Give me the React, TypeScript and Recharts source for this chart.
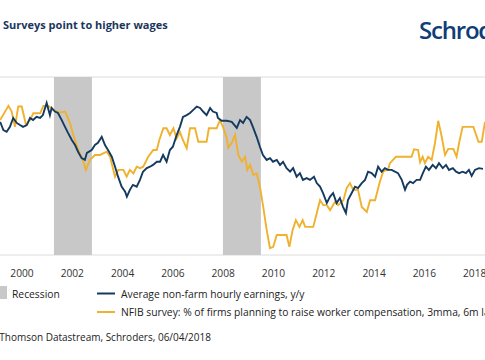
import React from "react";
import { LineChart, Line, XAxis, YAxis, CartesianGrid, ReferenceArea } from "recharts";

// Average non-farm hourly earnings, y/y (%)
const earningsDates = [
  1999.13, 1999.26, 1999.39, 1999.52, 1999.65, 1999.79, 1999.92, 2000.04, 2000.19, 2000.32,
  2000.44, 2000.58, 2000.72, 2000.83, 2000.98, 2001.11, 2001.18, 2001.31, 2001.43, 2001.58,
  2001.71, 2001.83, 2001.98, 2002.11, 2002.23, 2002.37, 2002.5, 2002.58, 2002.77, 2002.9,
  2003.02, 2003.17, 2003.3, 2003.42, 2003.57, 2003.7, 2003.82, 2003.96, 2004.1, 2004.17,
  2004.29, 2004.41, 2004.56, 2004.69, 2004.81, 2004.96, 2005.09, 2005.21, 2005.36, 2005.49,
  2005.61, 2005.75, 2005.88, 2006.0, 2006.15, 2006.28, 2006.4, 2006.55, 2006.68, 2006.8,
  2006.95, 2007.08, 2007.2, 2007.34, 2007.48, 2007.59, 2007.74, 2007.79, 2007.94, 2008.14,
  2008.34, 2008.54, 2008.67, 2008.79, 2008.93, 2009.07, 2009.18, 2009.33, 2009.46, 2009.58,
  2009.73, 2009.86, 2009.98, 2010.13, 2010.26, 2010.38, 2010.52, 2010.66, 2010.78, 2010.92,
  2011.05, 2011.17, 2011.32, 2011.45, 2011.61, 2011.72, 2011.85, 2011.97, 2012.12, 2012.25,
  2012.37, 2012.51, 2012.64, 2012.76, 2012.88, 2012.96, 2013.11, 2013.24, 2013.36, 2013.51,
  2013.64, 2013.76, 2013.9, 2014.04, 2014.16, 2014.3, 2014.43, 2014.55, 2014.7, 2014.83,
  2014.95, 2015.1, 2015.23, 2015.31, 2015.43, 2015.55, 2015.69, 2015.83, 2015.94, 2016.06,
  2016.18, 2016.33, 2016.46, 2016.58, 2016.73, 2016.86, 2016.98, 2017.13, 2017.26, 2017.38,
  2017.52, 2017.65, 2017.77, 2017.88, 2018.01, 2018.17, 2018.33,
];
const earningsValues = [
  3.74, 3.51, 3.46, 3.6, 3.85, 3.71, 3.65, 3.6, 3.65, 3.85,
  3.79, 3.88, 3.85, 3.93, 4.27, 3.93, 4.13, 4.03, 3.99, 3.79,
  3.6, 3.43, 3.23, 3.09, 2.9, 2.72, 2.67, 2.87, 2.95, 3.09,
  3.15, 3.32, 3.09, 2.95, 2.76, 2.48, 2.2, 1.92, 1.78, 1.64,
  1.83, 1.97, 1.92, 2.11, 2.34, 2.44, 2.48, 2.53, 2.62, 2.62,
  2.81, 2.62, 2.95, 3.04, 3.37, 3.6, 3.88, 3.93, 3.99, 4.07,
  4.17, 4.13, 4.03, 3.93, 4.13, 4.03, 3.99, 3.85, 3.77, 3.77,
  3.74, 3.57, 3.79, 3.71, 3.88, 3.79, 3.6, 3.32, 3.04, 2.81,
  2.67, 2.72, 2.62, 2.67, 2.53, 2.62, 2.44, 2.34, 2.44, 2.2,
  2.3, 2.11, 2.16, 2.11, 2.2, 2.02, 1.92, 1.74, 1.46, 1.64,
  1.74, 1.46, 1.6, 1.36, 1.18, 1.54, 1.74, 1.92, 1.88, 2.02,
  2.11, 2.34, 2.3, 2.2, 2.48, 2.34, 2.44, 2.39, 2.39, 2.34,
  2.3, 2.11, 1.83, 1.97, 2.06, 2.02, 2.11, 2.11, 2.3, 2.48,
  2.39, 2.53, 2.44, 2.58, 2.44, 2.53, 2.39, 2.44, 2.34, 2.3,
  2.34, 2.3, 2.39, 2.22, 2.39, 2.44, 2.42,
];

// NFIB survey: % of firms planning to raise worker compensation (plotted on the same scale)
const nfibDates = [
  1999.13, 1999.46, 1999.59, 1999.72, 1999.85, 1999.99, 2000.16, 2000.32, 2000.45, 2000.72,
  2000.85, 2001.05, 2001.25, 2001.51, 2001.71, 2001.78, 2001.91, 2002.04, 2002.24, 2002.44,
  2002.54, 2002.7, 2002.9, 2003.1, 2003.37, 2003.5, 2003.7, 2003.83, 2004.03, 2004.16,
  2004.29, 2004.43, 2004.56, 2004.69, 2004.82, 2005.02, 2005.22, 2005.36, 2005.46, 2005.62,
  2005.75, 2005.88, 2006.02, 2006.15, 2006.28, 2006.4, 2006.55, 2006.68, 2006.88, 2007.01,
  2007.34, 2007.43, 2007.74, 2007.87, 2007.99, 2008.14, 2008.2, 2008.34, 2008.47, 2008.6,
  2008.74, 2008.87, 2008.96, 2009.07, 2009.2, 2009.33, 2009.46, 2009.59, 2009.73, 2009.86,
  2009.99, 2010.13, 2010.52, 2010.63, 2010.76, 2010.89, 2011.03, 2011.16, 2011.26, 2011.58,
  2011.72, 2011.85, 2011.98, 2012.12, 2012.25, 2012.45, 2012.57, 2012.78, 2012.91, 2013.04,
  2013.17, 2013.36, 2013.51, 2013.71, 2013.84, 2014.04, 2014.23, 2014.37, 2014.55, 2014.63,
  2014.87, 2015.49, 2015.59, 2015.75, 2015.83, 2015.93, 2016.02, 2016.15, 2016.29, 2016.42,
  2016.55, 2016.69, 2016.82, 2016.95, 2017.15, 2017.28, 2017.39, 2017.52, 2017.95, 2018.15,
  2018.28, 2018.41,
];
const nfibValues = [
  3.79, 4.19, 4.03, 3.6, 4.17, 4.17, 3.65, 3.79, 3.98, 3.98,
  4.19, 4.19, 4.07, 4.0, 4.03, 3.93, 3.7, 3.37, 2.95, 2.62,
  2.39, 2.67, 2.81, 2.81, 2.9, 2.76, 2.2, 2.39, 2.39, 2.2,
  2.39, 2.29, 2.48, 2.44, 2.48, 2.76, 2.95, 2.95, 3.23, 3.56,
  3.56, 3.37, 3.56, 3.27, 3.45, 3.23, 3.0, 3.56, 3.56, 3.18,
  3.18, 3.56, 3.56, 3.79, 3.6, 3.29, 3.01, 3.15, 3.37, 2.81,
  2.62, 2.76, 2.39, 2.53, 2.25, 2.29, 1.92, 1.36, 0.7, 0.19,
  0.23, 0.56, 0.56, 0.23, 0.7, 0.98, 0.79, 0.98, 0.79, 0.79,
  1.17, 1.54, 1.4, 1.4, 1.26, 1.5, 1.4, 1.54, 1.88, 2.02,
  1.83, 1.83, 1.35, 1.21, 1.54, 1.54, 2.06, 2.36, 2.39, 2.58,
  2.76, 2.76, 2.97, 2.95, 2.61, 2.76, 2.58, 2.76, 2.67, 3.14,
  3.77, 3.32, 2.81, 2.98, 2.98, 2.76, 3.18, 3.6, 3.6, 3.18,
  3.18, 3.74,
];

const recessions: [number, number][] = [
  [2001.27, 2002.78],
  [2007.99, 2009.5],
];
const yearTicks = [2000, 2002, 2004, 2006, 2008, 2010, 2012, 2014, 2016, 2018];
const valueTicks = [0, 1, 2, 3, 4, 5];

const earningsData = earningsDates.map((t, i) => ({ t, v: earningsValues[i] }));
const nfibData = nfibDates.map((t, i) => ({ t, v: nfibValues[i] }));

const NAVY = "#143a5f";
const GOLD = "#f0b12e";
const FONT = "'Open Sans', 'Noto Sans', sans-serif";

export default function App() {
  return (
    <div
      style={{
        position: "absolute",
        left: 0,
        top: 0,
        width: 485,
        height: 360,
        overflow: "hidden",
        background: "#fff",
        fontFamily: FONT,
      }}
    >
      <LineChart
        width={485}
        height={360}
        margin={{ top: 77, right: 0, bottom: 75, left: 0 }}
      >
        <CartesianGrid vertical={false} stroke="#dcdcdc" strokeWidth={1} />
        <XAxis
          dataKey="t"
          type="number"
          domain={[1999.125, 2018.41]}
          allowDataOverflow
          ticks={yearTicks}
          tickFormatter={(v: number) => String(Math.round(v))}
          axisLine={false}
          tickLine={false}
          tickMargin={9}
          tick={{ fontSize: 10.2, fill: "#333", fontFamily: FONT }}
          height={30}
        />
        <YAxis yAxisId="l" hide domain={[0, 5]} ticks={valueTicks} />
        {recessions.map(([a, b], i) => (
          <ReferenceArea
            key={i}
            yAxisId="l"
            x1={a}
            x2={b}
            fill="#c8c8c8"
            fillOpacity={1}
            stroke="none"
          />
        ))}
        <Line
          yAxisId="l"
          data={nfibData}
          dataKey="v"
          stroke={GOLD}
          strokeWidth={1.9}
          dot={false}
          isAnimationActive={false}
          type="linear"
        />
        <Line
          yAxisId="l"
          data={earningsData}
          dataKey="v"
          stroke={NAVY}
          strokeWidth={1.9}
          dot={false}
          isAnimationActive={false}
          type="linear"
        />
      </LineChart>
      <svg
        width={485}
        height={360}
        style={{ position: "absolute", left: 0, top: 0, pointerEvents: "none" }}
      >
        <text x={3} y={28.5} fontSize={11} fontWeight={700} fill="#1b365d" fontFamily={FONT}>
          Surveys point to higher wages
        </text>
        <text
          x={419}
          y={39}
          fontSize={24}
          fontWeight={600}
          fill="#0e3d78"
          fontFamily={FONT}
          letterSpacing={-1.2}
        >
          Schroders
        </text>
        <rect x={-6} y={286} width={13} height={13} fill="#c8c8c8" />
        <text x={12} y={297.5} fontSize={10.3} fill="#222" fontFamily={FONT}>
          Recession
        </text>
        <line x1={97} x2={115} y1={293.5} y2={293.5} stroke={NAVY} strokeWidth={2} />
        <text x={121} y={297.5} fontSize={10.3} fill="#222" fontFamily={FONT}>
          Average non-farm hourly earnings, y/y
        </text>
        <line x1={97} x2={115} y1={312} y2={312} stroke={GOLD} strokeWidth={2} />
        <text x={121} y={315.5} fontSize={10.3} fill="#222" fontFamily={FONT}>
          NFIB survey: % of firms planning to raise worker compensation, 3mma, 6m lag
        </text>
        <text x={211} y={340.5} fontSize={10} fill="#222" fontFamily={FONT} textAnchor="end">
          Source: Thomson Datastream, Schroders, 06/04/2018
        </text>
      </svg>
    </div>
  );
}
